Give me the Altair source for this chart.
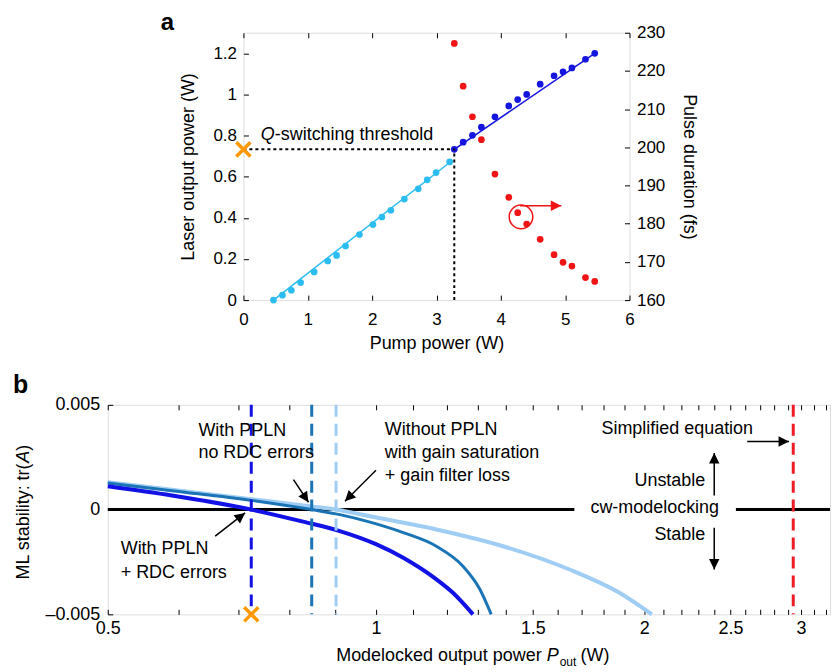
import math
import altair as alt
import pandas as pd

FONT = "Liberation Sans"

# ---------------- Panel a: values ----------------
pump_cw = [0.467, 0.606, 0.745, 0.889, 1.099, 1.31, 1.448, 1.587, 1.803, 2.013,
           2.152, 2.291, 2.501, 2.717, 2.856, 2.994, 3.205]
power_cw = [0.0, 0.024, 0.048, 0.085, 0.137, 0.190, 0.217, 0.263, 0.319, 0.367,
            0.404, 0.437, 0.491, 0.541, 0.585, 0.620, 0.672]
pump_ml = [3.277, 3.415, 3.559, 3.698, 3.909, 4.124, 4.263, 4.402, 4.612, 4.828,
           4.967, 5.105, 5.316, 5.46]
power_ml = [0.733, 0.768, 0.801, 0.841, 0.891, 0.944, 0.975, 1.000, 1.050, 1.091,
            1.110, 1.129, 1.171, 1.200]
pulse_fs = [227.2, 216.0, 208.0, 202.0, 193.0, 186.9, 182.9, 179.9, 175.9, 171.9,
            169.9, 168.9, 165.9, 164.9]
fit_cw_pump = [0.467, 3.25]
fit_cw_power = [0.0, 0.68]
fit_ml_pump = [3.277, 5.46]
fit_ml_power = [0.733, 1.2]
qsw_pump = 3.277
qsw_power = 0.733
circle_pump = 4.314
circle_fs = 181.8
arrow_pump = [4.30, 4.94]
arrow_fs = 184.7
qtext_pump = 0.27
qtext_power = 0.805
a_x_ticks = [0, 1, 2, 3, 4, 5, 6]
a_left_ticks = [0, 0.2, 0.4, 0.6, 0.8, 1.0, 1.2]
a_right_ticks = [160, 170, 180, 190, 200, 210, 220, 230]

# ---------------- Panel b: values ----------------
p_rdc = [0.5, 0.59, 0.7245, 0.833, 0.907, 1.0, 1.073, 1.169, 1.22, 1.285]
tr_rdc = [0.00111, 0.00067, 0.0, -0.0006, -0.001, -0.00165, -0.0023, -0.00333, -0.00397, -0.005]
p_nordc = [0.5, 0.59, 0.7245, 0.847, 0.911, 0.985, 1.073, 1.169, 1.252, 1.308, 1.347]
tr_nordc = [0.00127, 0.0009, 0.00044, 0.0, -0.00024, -0.0006, -0.0011, -0.00175,
            -0.0027, -0.0038, -0.005]
p_nopp = [0.5, 0.59, 0.7245, 0.847, 0.902, 0.985, 1.169, 1.389, 1.649, 1.876, 2.04]
tr_nopp = [0.0013, 0.00095, 0.0005, 0.00015, 0.0, -0.00032, -0.00095, -0.00175,
           -0.00286, -0.00397, -0.005]
cross_rdc = 0.7245
cross_nordc = 0.847
cross_nopp = 0.902
simplified_p = 2.94
b_x_max = 3.233
zero_from = [0.5, 2.535]
zero_to = [1.67, 3.233]
arrow_x0 = [0.660, 0.808, 1.0, 2.61, 2.397, 2.397]
arrow_y0 = [-0.00127, 0.00143, 0.00188, 0.00325, 0.00067, -0.00087]
arrow_x1 = [0.713, 0.840, 0.923, 2.908, 2.397, 2.397]
arrow_y1 = [-0.00016, 0.00035, 0.0004, 0.00325, 0.0027, -0.00286]
left_labels = ["With PPLN", "no RDC errors", "Without PPLN", "with gain saturation",
               "+ gain filter loss", "With PPLN", "+ RDC errors"]
left_lx = [0.632, 0.632, 1.023, 1.023, 1.023, 0.517, 0.517]
left_ly = [0.00376, 0.0027, 0.00378, 0.0027, 0.00162, -0.0019, -0.00301]
right_labels = ["Simplified equation", "Unstable", "cw-modelocking", "Stable"]
right_lx = [2.65, 2.342, 2.427, 2.342]
right_ly = [0.00384, 0.00135, 0.00008, -0.00122]
b_x_ticks = [0.5, 0.6, 0.7, 0.8, 0.9, 1.0, 1.1, 1.2, 1.3, 1.4, 1.5, 1.6, 1.7, 1.8, 1.9,
             2.0, 2.1, 2.2, 2.3, 2.4, 2.5, 2.6, 2.7, 2.8, 2.9, 3.0, 3.1, 3.2]
b_y_ticks = [-0.005, 0, 0.005]

# ---------------- styles ----------------
C_CW = "#2bbdf0"
C_ML = "#1515e0"
C_RED = "#f01414"
C_ORANGE = "#ff9900"
C_B1 = "#1212e6"
C_B2 = "#1a74b6"
C_B3 = "#9fcdf3"
C_BRED = "#ee1c24"
XPATH = "M-1,-1L1,1M1,-1L-1,1"
HEAD = "M0,0L1,2L-1,2Z"

WA, HA = 387, 268
WB, HB = 724, 210

one = pd.DataFrame({"k": [0]})

common = dict(domain=False, grid=False, tickSize=5, offset=-5, tickColor="black",
              tickWidth=1, labelColor="black", labelFont=FONT, titleFont=FONT,
              titleColor="black", titleFontWeight="normal", labelFlush=False,
              labelOverlap=False)

# ================= Panel a =================
xa_scale = alt.Scale(domain=[0, 6], nice=False, zero=False)
ya_scale = alt.Scale(domain=[0, 1.3], nice=False, zero=False)
yr_scale = alt.Scale(domain=[160, 230], nice=False, zero=False)

ax_a_bottom = alt.Axis(values=a_x_ticks, format="~g", labelFontSize=17, labelPadding=11,
                       title="Pump power (W)", titleFontSize=18, titlePadding=8, **common)
ax_a_left = alt.Axis(values=a_left_ticks, format="~g", labelFontSize=17, labelPadding=7,
                     title="Laser output power (W)", titleFontSize=18, titlePadding=15,
                     orient="left", **common)
ax_a_right = alt.Axis(values=a_right_ticks, format="d", labelFontSize=17, labelPadding=7,
                      title="Pulse duration (fs)", titleFontSize=18, titlePadding=15,
                      orient="right", **common)
ax_a_top = alt.Axis(values=a_x_ticks, labels=False, title=None, orient="top", **common)


def XA(f):
    return alt.X(f, type="quantitative", scale=xa_scale, axis=ax_a_bottom)


def YA(f):
    return alt.Y(f, type="quantitative", scale=ya_scale, axis=ax_a_left)


def XT(f):
    return alt.X(f, type="quantitative", scale=xa_scale, axis=ax_a_top)


def YR(f):
    return alt.Y(f, type="quantitative", scale=yr_scale, axis=ax_a_right)


df_cw = pd.DataFrame({"pump": pump_cw, "power": power_cw})
df_ml = pd.DataFrame({"pump": pump_ml, "power": power_ml, "fs": pulse_fs})
df_cwfit = pd.DataFrame({"pump": fit_cw_pump, "power": fit_cw_power})
df_mlfit = pd.DataFrame({"pump": fit_ml_pump, "power": fit_ml_power})
df_thr = pd.DataFrame({"pump": [qsw_pump], "power": [qsw_power], "pump0": [0.0], "power0": [0.0]})
df_q = pd.DataFrame({"pump": [qtext_pump], "power": [qtext_power]})
df_circ = pd.DataFrame({"pump": [circle_pump], "fs": [circle_fs]})
df_arr = pd.DataFrame({"p0": [arrow_pump[0]], "p1": [arrow_pump[1]], "fs": [arrow_fs]})

cw_line = alt.Chart(df_cwfit).mark_line(color=C_CW, strokeWidth=1.5).encode(x=XA("pump"), y=YA("power"))
ml_line = alt.Chart(df_mlfit).mark_line(color=C_ML, strokeWidth=1.5).encode(x=XA("pump"), y=YA("power"))
cw_pts = alt.Chart(df_cw).mark_circle(size=45, color=C_CW, opacity=1).encode(x=XA("pump"), y=YA("power"))
ml_pts = alt.Chart(df_ml).mark_circle(size=45, color=C_ML, opacity=1).encode(x=XA("pump"), y=YA("power"))
h_rule = alt.Chart(df_thr).mark_rule(color="black", strokeWidth=2, strokeDash=[3, 3]).encode(
    x=XA("pump0"), x2="pump:Q", y=YA("power"))
v_rule = alt.Chart(df_thr).mark_rule(color="black", strokeWidth=2, strokeDash=[3, 3]).encode(
    x=XA("pump"), y=YA("power0"), y2="power:Q")
x_mark_a = alt.Chart(df_thr).mark_point(shape=XPATH, size=200, filled=False, strokeWidth=3.5,
                                        color=C_ORANGE, opacity=1).encode(x=XA("pump0"), y=YA("power"))
q1 = alt.Chart(df_q).mark_text(text="Q", fontStyle="italic", align="left", baseline="middle",
                               fontSize=18, font=FONT, color="black").encode(x=XA("pump"), y=YA("power"))
q2 = alt.Chart(df_q).mark_text(text="-switching threshold", align="left", baseline="middle",
                               fontSize=18, font=FONT, color="black", dx=14).encode(x=XA("pump"), y=YA("power"))
lab_a = alt.Chart(one).mark_text(text="a", fontWeight="bold", fontSize=24, font=FONT, align="left",
                                 baseline="alphabetic", color="black").encode(x=alt.value(-83), y=alt.value(-3))

left_a = alt.layer(cw_line, ml_line, cw_pts, ml_pts, h_rule, v_rule, q1, q2, x_mark_a, lab_a)

red_pts = alt.Chart(df_ml).mark_circle(size=45, color=C_RED, opacity=1).encode(x=XT("pump"), y=YR("fs"))
circ = alt.Chart(df_circ).mark_point(shape="circle", size=560, filled=False, strokeWidth=1.5,
                                     color=C_RED, opacity=1).encode(x=XT("pump"), y=YR("fs"))
arr_line = alt.Chart(df_arr).mark_rule(color=C_RED, strokeWidth=1.5).encode(x=XT("p0"), x2="p1:Q", y=YR("fs"))
arr_head = alt.Chart(df_arr).mark_point(shape=HEAD, size=110, filled=True, angle=90, color=C_RED,
                                        opacity=1, strokeWidth=0).encode(x=XT("p1"), y=YR("fs"))
right_a = alt.layer(red_pts, circ, arr_line, arr_head)

panel_a = alt.layer(left_a, right_a).resolve_scale(y="independent").resolve_axis(
    x="independent", y="independent").properties(width=WA, height=HA)

spacer = alt.Chart(one).mark_text(text="").encode(x=alt.value(0), y=alt.value(0)).properties(
    width=32, height=10, view=alt.ViewBackground(strokeOpacity=0))

# ================= Panel b =================
xb_scale = alt.Scale(type="log", domain=[0.5, b_x_max], nice=False)
yb_scale = alt.Scale(domain=[-0.005, 0.005], nice=False, zero=False)

ax_b_bottom = alt.Axis(values=b_x_ticks, labelFontSize=18, labelPadding=5, title=None,
                       labelExpr="abs(datum.value*2 - round(datum.value*2)) < 0.01 ? format(datum.value, '~g') : ''",
                       **common)
ax_b_top = alt.Axis(values=b_x_ticks, labels=False, title=None, orient="top", **common)
ax_b_left = alt.Axis(values=b_y_ticks, labelFontSize=18, labelPadding=8, title=None,
                     labelExpr="datum.value == 0 ? '0' : (datum.value > 0 ? '0.005' : '\u20130.005')",
                     **common)


def XB(f):
    return alt.X(f, type="quantitative", scale=xb_scale, axis=ax_b_bottom)


def YB(f):
    return alt.Y(f, type="quantitative", scale=yb_scale, axis=ax_b_left)


def XBT(f):
    return alt.X(f, type="quantitative", scale=xb_scale, axis=ax_b_top)


def pxb(v):
    return WB * (math.log(v) - math.log(0.5)) / (math.log(b_x_max) - math.log(0.5))


def pyb(v):
    return HB * (0.005 - v) / 0.01


angles = [math.degrees(math.atan2(pxb(a1) - pxb(a0), -(pyb(b1) - pyb(b0)))) % 360
          for a0, b0, a1, b1 in zip(arrow_x0, arrow_y0, arrow_x1, arrow_y1)]

df_nopp = pd.DataFrame({"p": p_nopp, "t": tr_nopp})
df_nordc = pd.DataFrame({"p": p_nordc, "t": tr_nordc})
df_rdc = pd.DataFrame({"p": p_rdc, "t": tr_rdc})
df_zero = pd.DataFrame({"p0": zero_from, "p1": zero_to, "t": [0.0, 0.0]})
df_arrows = pd.DataFrame({"x0": arrow_x0, "y0": arrow_y0, "x1": arrow_x1, "y1": arrow_y1, "ang": angles})
df_ll = pd.DataFrame({"label": left_labels, "p": left_lx, "t": left_ly})
df_rl = pd.DataFrame({"label": right_labels, "p": right_lx, "t": right_ly})
df_xb = pd.DataFrame({"p": [cross_rdc], "t": [-0.005]})

zero_line = alt.Chart(df_zero).mark_rule(color="black", strokeWidth=3).encode(
    x=XB("p0"), x2="p1:Q", y=YB("t"))
l_nopp = alt.Chart(df_nopp).mark_line(color=C_B3, strokeWidth=4, interpolate="monotone").encode(x=XB("p"), y=YB("t"))
l_nordc = alt.Chart(df_nordc).mark_line(color=C_B2, strokeWidth=3, interpolate="monotone").encode(x=XB("p"), y=YB("t"))
l_rdc = alt.Chart(df_rdc).mark_line(color=C_B1, strokeWidth=4, interpolate="monotone").encode(x=XB("p"), y=YB("t"))

vlines = []
for val, col in [(cross_rdc, C_B1), (cross_nordc, C_B2), (cross_nopp, C_B3)]:
    vlines.append(alt.Chart(pd.DataFrame({"p": [val]})).mark_rule(
        color=col, strokeWidth=3, strokeDash=[12, 7]).encode(x=XB("p")))

arrow_lines = alt.Chart(df_arrows).mark_rule(color="black", strokeWidth=1.5).encode(
    x=XB("x0"), y=YB("y0"), x2="x1:Q", y2="y1:Q")
arrow_heads = alt.Chart(df_arrows).mark_point(shape=HEAD, size=110, filled=True, color="black",
                                              opacity=1, strokeWidth=0).encode(
    x=XB("x1"), y=YB("y1"), angle=alt.Angle("ang:Q", scale=None))
txt_left = alt.Chart(df_ll).mark_text(align="left", baseline="middle", fontSize=18, font=FONT,
                                      color="black").encode(x=XB("p"), y=YB("t"), text="label:N")
txt_right = alt.Chart(df_rl).mark_text(align="right", baseline="middle", fontSize=18, font=FONT,
                                       color="black").encode(x=XB("p"), y=YB("t"), text="label:N")
x_mark_b = alt.Chart(df_xb).mark_point(shape=XPATH, size=200, filled=False, strokeWidth=3.5,
                                       color=C_ORANGE, opacity=1).encode(x=XB("p"), y=YB("t"))


def ptext(txt, x, y, size=18, style="normal", align="left", angle=0, baseline="alphabetic", weight="normal"):
    return alt.Chart(one).mark_text(text=txt, fontSize=size, fontStyle=style, align=align, angle=angle,
                                    baseline=baseline, font=FONT, color="black", fontWeight=weight).encode(
        x=alt.value(x), y=alt.value(y))


xt1 = ptext("Modelocked output power", 229, 257)
xt2 = ptext("P", 440, 257, style="italic")
xt3 = ptext("out", 453, 262, size=12)
xt4 = ptext("(W)", 474, 257)
yt1 = ptext("ML stability: tr(", -84, 175, angle=270, baseline="middle")
yt2 = ptext("A", -84, 58, angle=270, baseline="middle", style="italic")
yt3 = ptext(")", -84, 46, angle=270, baseline="middle")
lab_b = ptext("b", -95, -12, size=25, weight="bold")

main_b = alt.layer(zero_line, l_nopp, l_nordc, l_rdc, *vlines, arrow_lines, arrow_heads,
                   txt_left, txt_right, x_mark_b, xt1, xt2, xt3, xt4, yt1, yt2, yt3, lab_b)
red_v = alt.Chart(pd.DataFrame({"p": [simplified_p]})).mark_rule(
    color=C_BRED, strokeWidth=3, strokeDash=[12, 7]).encode(x=XBT("p"))
top_b = alt.layer(red_v)

panel_b = alt.layer(main_b, top_b).resolve_axis(x="independent").properties(width=WB, height=HB)

chart = alt.vconcat(alt.hconcat(spacer, panel_a, spacing=20), panel_b, spacing=18).properties(
    padding={"left": 4, "top": 1, "right": 0, "bottom": 0}
).configure_view(stroke="black", strokeWidth=1.5).configure(font=FONT, background="white")

chart.save("out.html", embed_options={"renderer": "svg", "actions": False})
